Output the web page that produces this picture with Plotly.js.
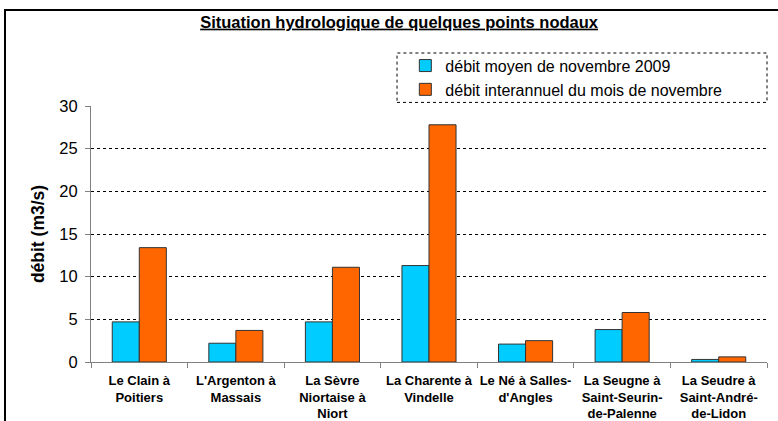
<!DOCTYPE html>
<html><head><meta charset="utf-8">
<script src="https://cdn.plot.ly/plotly-3.0.1.min.js"></script>
<style>
html,body{margin:0;padding:0;background:#fff;overflow:hidden;}
#frame{position:absolute;left:4px;top:9px;width:800px;height:500px;border:2px solid #000;box-sizing:border-box;}
#chart{position:absolute;left:0;top:0;width:778px;height:421px;}
</style></head>
<body>
<div id="frame"></div>
<div id="chart"></div>
<script>
var categories = ["Le Clain à<br>Poitiers", "L'Argenton à<br>Massais", "La Sèvre<br>Niortaise à<br>Niort", "La Charente à<br>Vindelle", "Le Né à Salles-<br>d'Angles", "La Seugne à<br>Saint-Seurin-<br>de-Palenne", "La Seudre à<br>Saint-André-<br>de-Lidon"];
var debitMoyen2009 = [4.7, 2.2, 4.7, 11.3, 2.1, 3.8, 0.3];
var debitInterannuel = [13.4, 3.7, 11.1, 27.8, 2.5, 5.8, 0.6];
var seriesNames = ["débit moyen de novembre 2009", "débit interannuel du mois de novembre"];
var yTicks = [0, 5, 10, 15, 20, 25, 30];
var gridTicks = [5, 10, 15, 20, 25];

var font = "Liberation Sans, Arial, sans-serif";
var traces = [
  {type:"bar", x:categories, y:debitMoyen2009, name:seriesNames[0],
   marker:{color:"#00CCFF", line:{color:"#333333", width:1}}},
  {type:"bar", x:categories, y:debitInterannuel, name:seriesNames[1],
   marker:{color:"#FF6600", line:{color:"#333333", width:1}}},
  {type:"scatter", x:[categories[0]], y:[0], yaxis:"y2", mode:"markers",
   marker:{opacity:0}, showlegend:false, hoverinfo:"skip"}
];
var layout = {
  width:778, height:421,
  paper_bgcolor:"rgba(0,0,0,0)", plot_bgcolor:"rgba(0,0,0,0)",
  margin:{l:91, r:11, t:106, b:59},
  font:{family:font, color:"#000"},
  title:{text:"<b><u>Situation hydrologique de quelques points nodaux</u></b>",
         x:0.513, xref:"container", y:0.948, yref:"container", xanchor:"center", yanchor:"middle",
         font:{size:16.5, family:font, color:"#000"}},
  barmode:"group", bargap:0.44, bargroupgap:0,
  showlegend:true,
  legend:{x:0.465, y:1.224, xanchor:"left", yanchor:"top", bgcolor:"rgba(0,0,0,0)",
          borderwidth:0, font:{size:16, family:font, color:"#000"},
          tracegroupgap:0, itemwidth:30},
  xaxis:{type:"category", tickson:"boundaries", ticks:"outside", ticklen:5,
         tickcolor:"#808080", showline:true, linecolor:"#808080", linewidth:1,
         showgrid:false, tickfont:{size:13, family:font, color:"#000", weight:"bold"},
         tickangle:0, automargin:false, ticklabelstandoff:6},
  yaxis:{range:[0,30], tickvals:yTicks, ticks:"outside", ticklen:5, tickcolor:"#808080",
         showline:true, linecolor:"#808080", linewidth:1, showgrid:false, zeroline:false,
         tickfont:{size:16.5, family:font, color:"#000"}, ticklabelstandoff:4,
         title:{text:"<b>débit (m3/s)</b>", font:{size:17.5, family:font, color:"#000"}, standoff:10},
         automargin:false},
  yaxis2:{range:[0,30], overlaying:"y", tickvals:gridTicks, showticklabels:false,
          showgrid:true, gridcolor:"#000", griddash:"dot", gridwidth:1, zeroline:false,
          showline:false, ticks:""},
  shapes:[{type:"rect", xref:"paper", yref:"paper", x0:0.4527, x1:1.0, y0:1.014, y1:1.207,
           line:{color:"#000", width:1, dash:"dot"}, fillcolor:"rgba(0,0,0,0)"}]
};
Plotly.newPlot("chart", traces, layout, {displayModeBar:false, staticPlot:true});
</script>
</body></html>
